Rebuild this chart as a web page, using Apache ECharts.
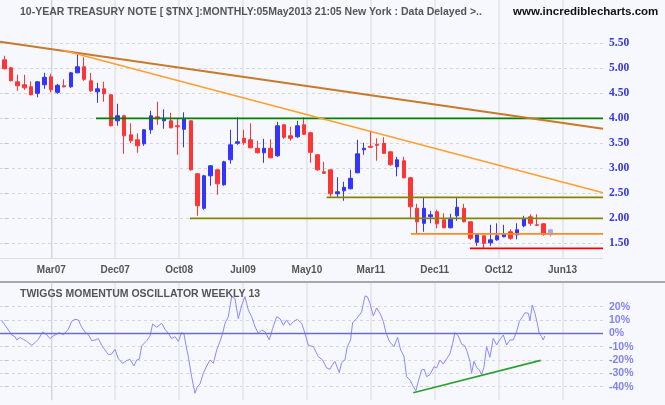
<!DOCTYPE html>
<html><head><meta charset="utf-8">
<script src="https://cdn.jsdelivr.net/npm/echarts@6/dist/echarts.min.js"></script>
<style>html,body{margin:0;padding:0;background:#f7f8fd;}#c{width:665px;height:405px;}</style>
</head><body><div id="c"></div>
<script>
// Monthly candles, month index 0 = Jul 2006 ... 82 = May 2013
const open  = [5.17,5.01,4.73,4.67,4.63,4.50,4.67,4.83,4.52,4.65, 4.63,4.91,5.03,4.75,4.53,4.59,4.47,3.95,4.05,3.67,
               3.57,3.49,3.77,4.03,3.95,3.95,3.85,3.78,3.95,2.89, 2.20,2.85,2.97,2.67,3.17,3.50,3.60,3.57,3.40,3.31,
               3.40,3.25,3.87,3.65,3.63,3.87,3.71,3.27,2.93,2.97, 2.49,2.55,2.59,2.91,3.37,3.44,3.48,3.50,3.33,3.03,
               3.15,2.81,2.20,1.90,2.03,2.13,1.97,1.81,2.05,2.20, 1.93,1.52,1.65,1.51,1.57,1.63,1.73,1.67,1.85,2.03,
               1.87,1.89,1.67];
const close = [4.99,4.75,4.65,4.61,4.47,4.73,4.82,4.57,4.66,4.63, 4.91,5.03,4.78,4.55,4.59,4.49,3.85,4.05,3.65,3.55,
               3.45,3.77,4.05,3.99,4.00,3.81,3.83,4.00,2.97,2.25, 2.85,3.05,2.69,3.13,3.47,3.53,3.51,3.41,3.31,3.40,
               3.21,3.85,3.62,3.60,3.85,3.68,3.32,2.97,2.90,2.49, 2.53,2.62,2.80,3.29,3.40,3.42,3.46,3.30,3.07,3.17,
               2.81,2.23,1.93,2.20,2.07,1.89,1.81,2.00,2.22,1.93, 1.60,1.67,1.50,1.57,1.65,1.69,1.60,1.77,1.99,1.90,
               1.86,1.68,1.77];
const low   = [4.98,4.74,4.55,4.57,4.46,4.42,4.59,4.52,4.49,4.62, 4.61,4.90,4.75,4.53,4.31,4.33,3.84,3.85,3.29,3.50,
               3.31,3.45,3.69,3.87,3.79,3.80,3.27,3.42,2.95,2.05, 2.17,2.65,2.47,2.65,3.09,3.47,3.47,3.40,3.30,3.11,
               3.20,3.23,3.59,3.55,3.61,3.67,3.11,2.95,2.89,2.43, 2.42,2.35,2.58,2.90,3.27,3.41,3.15,3.29,3.05,2.84,
               2.80,2.00,1.70,1.73,1.90,1.80,1.80,1.80,1.95,1.92, 1.57,1.45,1.40,1.45,1.55,1.62,1.57,1.58,1.82,1.85,
               1.85,1.65,1.63];
const high  = [5.25,5.03,4.87,4.87,4.74,4.74,4.91,4.89,4.69,4.78, 4.93,5.31,5.22,4.91,4.71,4.73,4.48,4.29,4.07,3.90,
               3.70,3.78,4.15,4.33,4.18,4.11,4.00,4.12,3.96,2.90, 2.87,3.06,2.98,3.15,3.77,4.02,3.77,3.90,3.55,3.59,
               3.58,3.93,3.88,3.83,3.95,4.02,3.73,3.28,3.13,2.98, 2.82,2.73,2.97,3.57,3.51,3.75,3.60,3.62,3.34,3.23,
               3.23,2.83,2.29,2.42,2.15,2.17,2.10,2.09,2.41,2.29, 1.94,1.70,1.66,1.87,1.90,1.87,1.78,1.90,2.05,2.08,
               2.08,1.90,1.78];

const xLabels = ['Mar07','Dec07','Oct08','Jul09','May10','Mar11','Dec11','Oct12','Jun13'];

// Trend / support lines: [month index, value]
const trendLong  = [[-0.65,5.53],[89.9,3.79]];
const trendShort = [[8.81,5.36],[89.9,2.51]];
const support400 = [[13.77,4.00],[89.9,4.00]];
const support200 = [[27.88,2.00],[89.9,2.00]];
const support242 = [[48.41,2.42],[89.9,2.42]];
const support169 = [[61.07,1.69],[89.9,1.69]];
const support140 = [[69.92,1.40],[89.9,1.40]];
const oscTrend   = [[61.41,-44.6],[80.54,-20.3]];

// Twiggs Momentum (weekly), [month index, %]
const oscillator = [
[-0.39,9.5],[0.11,6],[0.61,2.5],[1.11,-1.25],[1.61,-2.5],[1.86,-5],[2.36,-3],[2.86,-4.5],[3.36,-6],[4.11,-9],
[4.61,-7],[5.11,-4.5],[5.76,1],[6.36,-1],[6.86,-4],[7.36,-2],[8.26,0.5],[8.86,-1],[9.61,3],[10.12,9],
[10.62,10.5],[11.12,10],[11.62,4.5],[12.12,1],[12.62,-1],[13.12,-5.5],[13.62,-5],[14.12,-4],[14.62,-9],[15.12,-12.5],
[15.62,-16],[16.12,-15.5],[16.62,-12],[17.12,-19],[17.77,-22.5],[18.37,-20.5],[18.87,-19.5],[19.47,-24.5],[19.88,-20],[20.27,-19.5],
[20.63,-9.5],[21.38,-5.5],[21.88,-2],[22.28,7],[22.88,4.5],[23.63,7.5],[24.13,3],[24.63,0],[25.13,-4],[25.63,-2.5],
[26.13,-6],[26.63,0.5],[26.98,-0.5],[27.28,-9],[27.63,-17.5],[28.13,-32.5],[28.63,-45],[28.98,-40],[29.38,-38],[29.88,-30],
[30.39,-24.5],[30.89,-20],[31.39,-22.5],[31.89,-12.5],[32.39,-6],[32.79,0],[33.14,7.5],[33.64,12.5],[34.14,27.5],[34.64,26],
[35.14,11],[35.64,21],[36.14,27.5],[36.64,17.5],[37.14,12.5],[37.64,5],[38.14,0],[38.64,2.5],[39.14,1.25],[39.79,-5],
[40.30,3.75],[40.90,12.5],[41.40,11],[41.90,6],[42.40,10],[42.90,6],[43.40,8.75],[44.00,10.5],[44.65,7.5],[45.15,0],
[45.65,-9],[46.40,-10],[47.15,-17.5],[47.80,-20],[48.40,-26],[48.90,-27],
[49.15,-24.5],[49.65,-21],[50.30,-29.5],[50.65,-22],[51.15,-20],[51.50,-10],[52.00,-5],[52.30,8],[52.90,11],[53.65,16],
[54.16,28],[54.51,27.5],[54.91,22.5],[55.41,13],[55.91,19],[56.41,15],[56.91,9],[57.31,0.5],[57.81,-6],[58.51,-10],
[59.06,-3],[59.51,-12.5],[60.01,-17],[60.41,-32.5],[60.91,-35],[61.41,-40],[61.81,-43],[62.16,-36],[62.66,-27.5],[63.06,-27],
[63.41,-32.5],[63.92,-31],[64.52,-25],[64.92,-26],[65.42,-20],[65.92,-23],[66.42,-19],[66.92,-15.5],[67.32,-7.5],[67.67,0.5],
[68.17,-2],[68.67,-8],[69.17,-9.5],[69.52,-14],[69.92,-21],[70.17,-30],[70.52,-21],[70.92,-25.5],[71.32,-27.5],[71.67,-31],
[72.02,-25.5],[72.42,-10],[72.92,-18],[73.42,-3.75],[73.93,-8.75],[74.43,-4.5],[74.93,-1.25],[75.43,-8.75],[75.93,-5],[76.43,-5],
[76.93,1.25],[77.33,8.75],[77.83,12.5],[78.18,15.5],[78.68,15],[78.93,9.5],[79.28,21.25],[79.68,15],[80.03,7.5],[80.33,0],
[80.68,-2.5],[80.93,-5],[81.18,-2]
];

// ---- layout ----
const X_MIN = -0.646, X_MAX = 89.9;     // month-index extent of the plot area (0..603 px)
const PLOT_W = 603;
const FRAME_L = 51.3;                   // first vertical grid line
const FRAME_STEP = 63.9;                // px between vertical grid lines
const FRAME_MAX = (PLOT_W - FRAME_L) / FRAME_STEP;
const SANS = "'Liberation Sans', Arial, sans-serif";
const SERIF = "'Liberation Serif', 'Times New Roman', serif";

const candleData = open.map((o, k) => {
  const item = { value: [k, o, close[k], low[k], high[k]] };
  if (k === open.length - 1) item.itemStyle = { color: '#a6a6ff', color0: '#a6a6ff', borderColor: '#a6a6ff', borderColor0: '#a6a6ff' };
  return item;
});

function lineSeries(data, color, width, xi, yi) {
  return { type: 'line', xAxisIndex: xi, yAxisIndex: yi, data: data, symbol: 'none',
    silent: true, animation: false, clip: false, lineStyle: { color, width } };
}
const dataX = { type: 'value', min: X_MIN, max: X_MAX, show: false };
const frameX = { type: 'value', min: 0, max: FRAME_MAX, interval: 1 };
const vLines = { show: true, showMinLine: true, showMaxLine: false, lineStyle: { color: '#e3e3e9', width: 1.5 } };
const hLines = { show: true, showMinLine: false, showMaxLine: false, lineStyle: { color: '#d6d6dc', type: [3, 3], width: 1 } };

const chart = echarts.init(document.getElementById('c'));
chart.setOption({
  backgroundColor: '#f7f8fd',
  animation: false,
  title: [
    { text: '10-YEAR TREASURY NOTE [ $TNX ]:MONTHLY:05May2013 21:05 New York : Data Delayed >..', left: 15, top: 2,
      textStyle: { fontFamily: SANS, fontSize: 10.5, fontWeight: 'bold', color: '#555' } },
    { text: 'www.incrediblecharts.com', left: 508, top: 1,
      textStyle: { fontFamily: SANS, fontSize: 11.5, fontWeight: 'bold', color: '#111' } },
    { text: 'TWIGGS MOMENTUM OSCILLATOR WEEKLY 13', left: 15, top: 284,
      textStyle: { fontFamily: SANS, fontSize: 10.5, fontWeight: 'bold', color: '#555' } }
  ],
  graphic: [
    { type: 'line', shape: { x1: 0, y1: 258.5, x2: PLOT_W, y2: 258.5 }, style: { stroke: '#dcdce2', lineWidth: 1 }, silent: true },
    { type: 'line', shape: { x1: 0, y1: 282, x2: 665, y2: 282 }, style: { stroke: '#a8a8a8', lineWidth: 2 }, silent: true }
  ],
  grid: [
    { left: 0, width: PLOT_W, top: 18.3, height: 250 },                  // 0: price data
    { left: FRAME_L, width: PLOT_W - FRAME_L, top: 0, height: 258.3 },   // 1: price frame
    { left: 0, width: PLOT_W, top: 293.3, height: 106.7 },               // 2: oscillator data
    { left: FRAME_L, width: PLOT_W - FRAME_L, top: 283, height: 117 }    // 3: oscillator frame
  ],
  xAxis: [
    Object.assign({ gridIndex: 0 }, dataX),
    Object.assign({ gridIndex: 1 }, frameX, {
      axisLine: { show: false }, axisTick: { show: false },
      axisLabel: { margin: 7, fontFamily: SANS, fontSize: 10, fontWeight: 'bold', color: '#555',
        formatter: v => (Math.abs(v - Math.round(v)) < 1e-6 ? (xLabels[Math.round(v)] || '') : '') },
      splitLine: vLines
    }),
    Object.assign({ gridIndex: 2 }, dataX),
    Object.assign({ gridIndex: 3 }, frameX, {
      axisLine: { show: false }, axisTick: { show: false }, axisLabel: { show: false }, splitLine: vLines
    })
  ],
  yAxis: [
    { gridIndex: 0, type: 'value', position: 'right', min: 1, max: 6, interval: 0.5,
      axisLine: { show: false },
      axisTick: { show: true, length: 4, lineStyle: { color: '#c8c8cc' } },
      axisLabel: { margin: 6, fontFamily: SERIF, fontSize: 11.5, fontWeight: 'bold', color: '#3434ee',
        showMinLabel: false, showMaxLabel: false, formatter: v => v.toFixed(2) },
      splitLine: hLines },
    { gridIndex: 1, type: 'value', position: 'right', min: 0, max: 1,
      axisLine: { show: true, lineStyle: { color: '#d4d4da' } }, axisTick: { show: false }, axisLabel: { show: false }, splitLine: { show: false } },
    { gridIndex: 2, type: 'value', position: 'right', min: -50, max: 30, interval: 10,
      axisLine: { show: false },
      axisTick: { show: true, length: 4, lineStyle: { color: '#c8c8cc' } },
      axisLabel: { margin: 6, fontFamily: SANS, fontSize: 10.5, fontWeight: 'bold', color: '#8282f2',
        showMinLabel: false, showMaxLabel: false, formatter: v => v + '%' },
      splitLine: hLines },
    { gridIndex: 3, type: 'value', position: 'right', min: 0, max: 1,
      axisLine: { show: true, lineStyle: { color: '#d4d4da' } }, axisTick: { show: false }, axisLabel: { show: false }, splitLine: { show: false } }
  ],
  series: [
    { type: 'line', xAxisIndex: 1, yAxisIndex: 1, data: [], silent: true },
    { type: 'line', xAxisIndex: 3, yAxisIndex: 3, data: [], silent: true },
    lineSeries(support400, '#008000', 1.8, 0, 0),
    lineSeries(support200, '#858500', 1.8, 0, 0),
    lineSeries(support242, '#858500', 1.8, 0, 0),
    lineSeries(support169, '#ff8c1a', 1.8, 0, 0),
    lineSeries(support140, '#ff0000', 1.8, 0, 0),
    { type: 'candlestick', xAxisIndex: 0, yAxisIndex: 0, data: candleData, encode: { x: 0, y: [1, 2, 3, 4] },
      barWidth: 4, silent: true, animation: false,
      itemStyle: { color: '#3434ff', borderColor: '#3434ff', color0: '#ff3434', borderColor0: '#ff3434', borderWidth: 1 } },
    lineSeries(trendLong, '#c9782c', 2, 0, 0),
    lineSeries(trendShort, '#ff9f2e', 1.6, 0, 0),
    Object.assign(lineSeries(oscillator, '#8a8aff', 1, 2, 2), {
      markLine: { silent: true, symbol: 'none', label: { show: false },
        lineStyle: { color: '#6c6cc6', width: 1.4, type: 'solid' }, data: [{ yAxis: 0 }] } }),
    lineSeries(oscTrend, '#2ca02c', 1.6, 2, 2)
  ]
});
</script></body></html>
